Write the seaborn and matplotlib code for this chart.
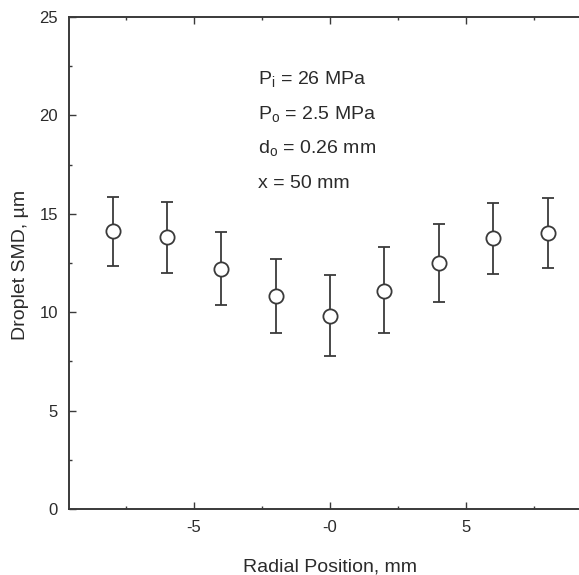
import matplotlib
matplotlib.use("Agg")
import matplotlib.pyplot as plt
import seaborn as sns
import pandas as pd
from matplotlib.ticker import MultipleLocator, FixedLocator

# Droplet Sauter mean diameter across the spray, with measurement spread
radial_mm = [-8, -6, -4, -2, 0, 2, 4, 6, 8]
smd_um = [14.1, 13.8, 12.2, 10.8, 9.8, 11.1, 12.5, 13.75, 14.0]
err_low = [12.35, 12.0, 10.35, 8.95, 7.75, 8.95, 10.5, 11.95, 12.25]
err_high = [15.85, 15.6, 14.05, 12.7, 11.9, 13.3, 14.5, 15.55, 15.8]

x_ticks = [-5, 0, 5]
x_tick_labels = ["-5", "-0", "5"]
y_ticks = [0, 5, 10, 15, 20, 25]

conditions = [r"P$_\mathregular{i}$ = 26 MPa",
              r"P$_\mathregular{o}$ = 2.5 MPa",
              r"d$_\mathregular{o}$ = 0.26 mm",
              "x = 50 mm"]

df = pd.DataFrame({"r": radial_mm, "smd": smd_um,
                   "lo": err_low, "hi": err_high})

sns.set_theme(style="ticks")
plt.rcParams["font.family"] = ["Liberation Sans", "DejaVu Sans"]
plt.rcParams["mathtext.fontset"] = "custom"
plt.rcParams["mathtext.rm"] = "Liberation Sans"

ink = "#2b2b2b"
stroke = "#3a3a3a"
fig = plt.figure(figsize=(5.79, 5.75), dpi=100)
ax = fig.add_axes([0.1192, 0.1148, 0.9016, 0.8557])

ax.errorbar(df["r"], df["smd"],
            yerr=[df["smd"] - df["lo"], df["hi"] - df["smd"]],
            fmt="none", ecolor=stroke, elinewidth=1.3, capsize=4.2,
            capthick=1.3, zorder=2)
sns.scatterplot(data=df, x="r", y="smd", ax=ax, marker="o", s=105,
                facecolor="white", edgecolor=stroke, linewidth=1.3,
                zorder=3, legend=False)

ax.set_xlim(-9.6, 9.6)
ax.set_ylim(0, 25)
ax.xaxis.set_major_locator(FixedLocator(x_ticks))
ax.set_xticklabels(x_tick_labels)
ax.xaxis.set_minor_locator(MultipleLocator(2.5))
ax.yaxis.set_major_locator(FixedLocator(y_ticks))
ax.yaxis.set_minor_locator(MultipleLocator(2.5))
ax.tick_params(which="both", direction="in", top=True, right=True,
               color=stroke, labelcolor=ink, labelsize=12, width=1.0)
ax.tick_params(which="major", length=5, pad=8)
ax.tick_params(which="minor", length=2.5)
for sp in ax.spines.values():
    sp.set_color(stroke)
    sp.set_linewidth(1.4)

ax.set_xlabel("Radial Position, mm", fontsize=14, color=ink)
ax.set_ylabel("Droplet SMD, \u00b5m", fontsize=14, color=ink)
ax.xaxis.label.set_verticalalignment("baseline")
ax.xaxis.set_label_coords(0.5, -0.128)
ax.yaxis.set_label_coords(-0.0766, 0.495)

for i, line in enumerate(conditions):
    ax.text(-2.65, 21.8 - 1.75 * i, line, fontsize=14, color=ink,
            va="center", ha="left")

fig.savefig("out.png", dpi=100)
